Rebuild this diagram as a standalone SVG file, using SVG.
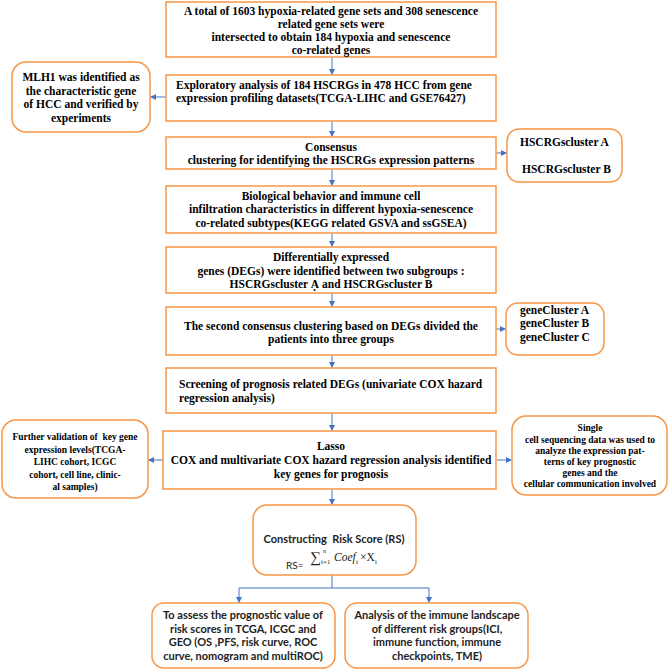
<svg xmlns="http://www.w3.org/2000/svg" width="669" height="670" viewBox="0 0 669 670">
<style>
.box{fill:#fff;stroke:#F79646;stroke-width:1.5}
.t{font-family:"Liberation Serif","Times New Roman",serif;font-weight:bold;font-size:11.5px;fill:#000}
.sm{font-size:9.5px}
.c{text-anchor:middle}
.s{font-family:Lato,"Liberation Sans",Arial,sans-serif;font-weight:bold;font-size:11px;fill:#222}
.pre{white-space:pre}
.conn{stroke:#4472C4;stroke-width:1;fill:none}
</style>
<defs>
<marker id="ah" markerUnits="userSpaceOnUse" markerWidth="6" markerHeight="6" refX="5" refY="3" orient="auto">
<path d="M0,0 L6,3 L0,6 z" fill="#4472C4"/>
</marker>
</defs>
<rect width="669" height="670" fill="#fff"/>
<g id="connectors">
<path class="conn" marker-end="url(#ah)" d="M332,57 V74"/>
<path class="conn" marker-end="url(#ah)" d="M332,121 V136"/>
<path class="conn" marker-end="url(#ah)" d="M332,169 V185"/>
<path class="conn" marker-end="url(#ah)" d="M332,233 V246"/>
<path class="conn" marker-end="url(#ah)" d="M332,293 V306"/>
<path class="conn" marker-end="url(#ah)" d="M332,355 V367"/>
<path class="conn" marker-end="url(#ah)" d="M332,413 V430"/>
<path class="conn" marker-end="url(#ah)" d="M332,489 V504"/>
<path class="conn" d="M332,575 V588 M239,588 H429"/>
<path class="conn" marker-end="url(#ah)" d="M239,588 V602"/>
<path class="conn" marker-end="url(#ah)" d="M429,588 V602"/>
<path class="conn" marker-end="url(#ah)" d="M166,97 H151"/>
<path class="conn" marker-end="url(#ah)" d="M163,460 H149"/>
<path class="conn" marker-end="url(#ah)" d="M496,153 H506"/>
<path class="conn" marker-end="url(#ah)" d="M496,329 H505"/>
<path class="conn" marker-end="url(#ah)" d="M497,460 H511"/>
</g>
<g id="n1">
<rect class="box" x="166" y="2" width="330" height="55"/>
<text class="t c" x="331"><tspan x="331" y="15">A total of 1603 hypoxia-related gene sets and 308 senescence</tspan><tspan x="331" y="28">related gene sets were</tspan><tspan x="331" y="41">intersected to obtain 184 hypoxia and senescence</tspan><tspan x="331" y="54">co-related genes</tspan></text>
</g>
<g id="n2">
<rect class="box" x="166" y="75" width="330" height="46"/>
<text class="t" x="176"><tspan x="176" y="89">Exploratory analysis of 184 HSCRGs in 478 HCC from gene</tspan><tspan x="176" y="102">expression profiling datasets(TCGA-LIHC and GSE76427)</tspan></text>
</g>
<g id="n3">
<rect class="box" x="166" y="137" width="330" height="32"/>
<text class="t c"><tspan x="331" y="151">Consensus</tspan><tspan x="331" y="164">clustering for identifying the HSCRGs expression patterns</tspan></text>
</g>
<g id="n4">
<rect class="box" x="166" y="186" width="330" height="47"/>
<text class="t c"><tspan x="331" y="200">Biological behavior and immune cell</tspan><tspan x="331" y="213">infiltration characteristics in different hypoxia-senescence</tspan><tspan x="331" y="227">co-related subtypes(KEGG related GSVA and ssGSEA)</tspan></text>
</g>
<g id="n5">
<rect class="box" x="166" y="247" width="330" height="46"/>
<text class="t c"><tspan x="331" y="261">Differentially expressed</tspan><tspan x="331" y="275">genes (DEGs) were identified between two subgroups :</tspan><tspan x="331" y="288">HSCRGscluster Ạ and HSCRGscluster B</tspan></text>
</g>
<g id="n6">
<rect class="box" x="166" y="307" width="330" height="48"/>
<text class="t c"><tspan x="331" y="330">The second consensus clustering based on DEGs divided the</tspan><tspan x="331" y="343">patients into three groups</tspan></text>
</g>
<g id="n7">
<rect class="box" x="166" y="368" width="330" height="45"/>
<text class="t"><tspan x="179" y="388">Screening of prognosis related DEGs (univariate COX hazard</tspan><tspan x="179" y="402">regression analysis)</tspan></text>
</g>
<g id="n8">
<rect class="box" x="163" y="431" width="333" height="58"/>
<text class="t c"><tspan x="331" y="450">Lasso</tspan><tspan x="331" y="464">COX and multivariate COX hazard regression analysis identified</tspan><tspan x="331" y="478">key genes for prognosis</tspan></text>
</g>
<g id="n9">
<rect class="box" x="253" y="505" width="163" height="70" rx="14"/>
<text class="s c pre" x="334" y="543">Constructing  Risk Score (RS)</text>
<text font-family="Lato,'Liberation Sans',sans-serif" font-size="10" fill="#222" x="286" y="569">RS=</text>
<text font-family="'Liberation Serif',serif" font-size="15" fill="#222" x="310" y="562">∑</text>
<text font-family="'Liberation Serif',serif" font-size="6.5" font-style="italic" fill="#222" x="323" y="553">n</text>
<text font-family="'Liberation Serif',serif" font-size="7" fill="#222" x="321" y="564">i=1</text>
<text font-family="'Liberation Serif',serif" font-size="11.5" font-style="italic" fill="#222" x="334" y="561">Coef</text>
<text font-family="'Liberation Serif',serif" font-size="7" fill="#222" x="356" y="564">i</text>
<text font-family="'Liberation Serif',serif" font-size="11.5" fill="#222" x="360" y="561">×X</text>
<text font-family="'Liberation Serif',serif" font-size="7" fill="#222" x="375" y="564">i</text>
</g>
<g id="n10">
<rect class="box" x="152" y="603" width="183" height="65" rx="12"/>
<text class="s c"><tspan x="243" y="619">To assess the prognostic value of</tspan><tspan x="243" y="633">risk scores in TCGA, ICGC and</tspan><tspan x="243" y="646">GEO (OS ,PFS, risk curve, ROC</tspan><tspan x="243" y="660">curve, nomogram and multiROC)</tspan></text>
</g>
<g id="n11">
<rect class="box" x="345" y="603" width="183" height="65" rx="12"/>
<text class="s c"><tspan x="437" y="619">Analysis of the immune landscape</tspan><tspan x="437" y="633">of different risk groups(ICI,</tspan><tspan x="437" y="646">immune function, immune</tspan><tspan x="437" y="660">checkpoints, TME)</tspan></text>
</g>
<g id="n12">
<rect class="box" x="12" y="62" width="138" height="70" rx="14"/>
<text class="t c"><tspan x="81" y="81">MLH1 was identified as</tspan><tspan x="81" y="95">the characteristic gene</tspan><tspan x="81" y="108">of HCC and verified by</tspan><tspan x="81" y="122">experiments</tspan></text>
</g>
<g id="n13">
<rect class="box" x="2" y="420" width="146" height="78" rx="14"/>
<text class="t sm c pre"><tspan x="75" y="440">Further validation of  key gene</tspan><tspan x="75" y="453">expression levels(TCGA-</tspan><tspan x="75" y="465">LIHC cohort, ICGC</tspan><tspan x="75" y="478">cohort, cell line, clinic-</tspan><tspan x="75" y="490">al samples)</tspan></text>
</g>
<g id="n14">
<rect class="box" x="507" y="129" width="115" height="53" rx="12"/>
<text class="t"><tspan x="520" y="146">HSCRGscluster A</tspan><tspan x="522" y="173">HSCRGscluster B</tspan></text>
</g>
<g id="n15">
<rect class="box" x="506" y="303" width="98" height="52" rx="12"/>
<text class="t"><tspan x="520" y="314">geneCluster A</tspan><tspan x="520" y="327">geneCluster B</tspan><tspan x="520" y="341">geneCluster C</tspan></text>
</g>
<g id="n16">
<rect class="box" x="512" y="416" width="155" height="79" rx="14"/>
<text class="t sm c"><tspan x="590" y="431">Single</tspan><tspan x="590" y="443">cell sequencing data was used to</tspan><tspan x="590" y="454">analyze the expression pat-</tspan><tspan x="590" y="465">terns of key prognostic</tspan><tspan x="590" y="476">genes and the</tspan><tspan x="590" y="487">cellular communication involved</tspan></text>
</g>
</svg>
